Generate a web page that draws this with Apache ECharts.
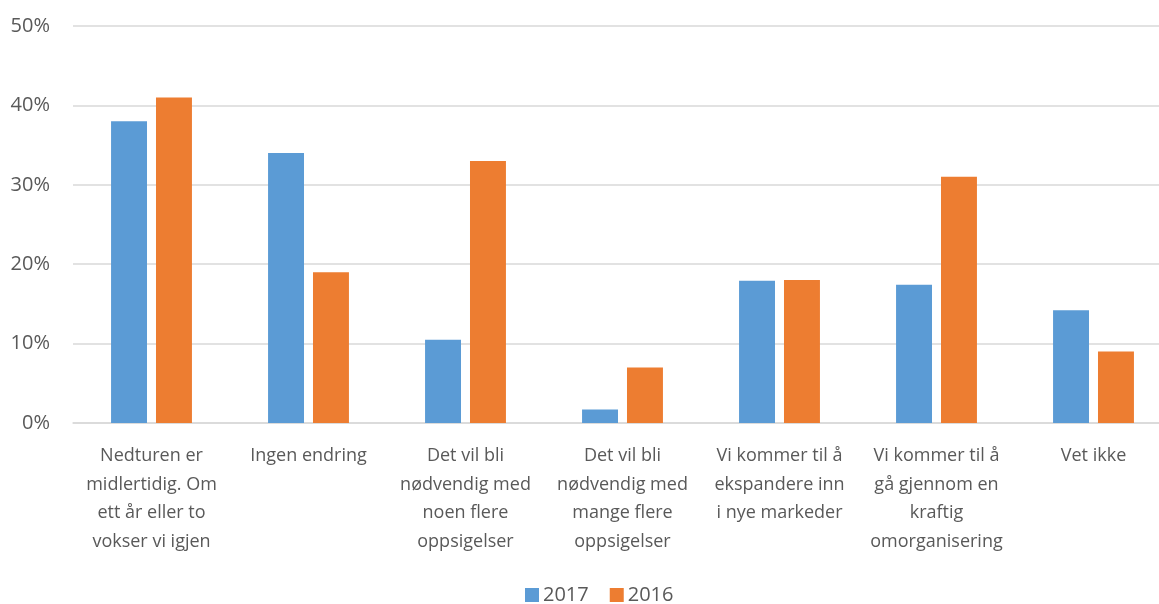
<!DOCTYPE html>
<html>
<head>
<meta charset="utf-8">
<script src="https://cdn.jsdelivr.net/npm/echarts@6/dist/echarts.min.js"></script>
<style>html,body{margin:0;padding:0;background:#fff;overflow:hidden;width:1159px;height:604px}#c{width:1172px;height:604px}</style>
</head>
<body>
<div id="c"></div>
<script>
const categories = [
  "Nedturen er\nmidlertidig. Om\nett år eller to\nvokser vi igjen",
  "Ingen endring",
  "Det vil bli\nnødvendig med\nnoen flere\noppsigelser",
  "Det vil bli\nnødvendig med\nmange flere\noppsigelser",
  "Vi kommer til å\nekspandere inn\ni nye markeder",
  "Vi kommer til å\ngå gjennom en\nkraftig\nomorganisering",
  "Vet ikke"
];
const seriesNames = ["2017", "2016"];
const values2017 = [38, 34, 10.5, 1.7, 17.9, 17.4, 14.2];
const values2016 = [41, 19, 33, 7, 18, 31, 9];

const font = "'Open Sans', 'Liberation Sans', sans-serif";
const chart = echarts.init(document.getElementById('c'), null, {renderer: 'canvas'});
chart.setOption({
  animation: false,
  color: ['#5B9BD5', '#ED7D31'],
  grid: {left: 73, right: 0, top: 26, bottom: 181, containLabel: false},
  legend: {
    data: seriesNames,
    top: 580,
    left: 520,
    icon: 'rect',
    itemWidth: 14,
    itemHeight: 14,
    itemGap: 21,
    textStyle: {fontFamily: font, fontSize: 20, color: '#595959', padding: [0, 0, 0, -1]}
  },
  xAxis: {
    type: 'category',
    data: categories,
    axisTick: {show: false},
    axisLine: {lineStyle: {color: '#D9D9D9', width: 1.5}},
    axisLabel: {
      interval: 0,
      fontFamily: font,
      fontSize: 18,
      lineHeight: 28.5,
      color: '#595959',
      margin: 19
    }
  },
  yAxis: {
    type: 'value',
    min: 0,
    max: 50,
    interval: 10,
    axisLine: {show: false},
    axisTick: {show: false},
    splitLine: {lineStyle: {color: '#D9D9D9', width: 1.5}},
    axisLabel: {
      formatter: '{value}%',
      fontFamily: font,
      fontSize: 20,
      color: '#595959',
      margin: 23
    }
  },
  series: [
    {name: seriesNames[0], type: 'bar', data: values2017, barWidth: '22.9%', barGap: '25%'},
    {name: seriesNames[1], type: 'bar', data: values2016, barWidth: '22.9%', barGap: '25%'}
  ]
});
</script>
</body>
</html>
